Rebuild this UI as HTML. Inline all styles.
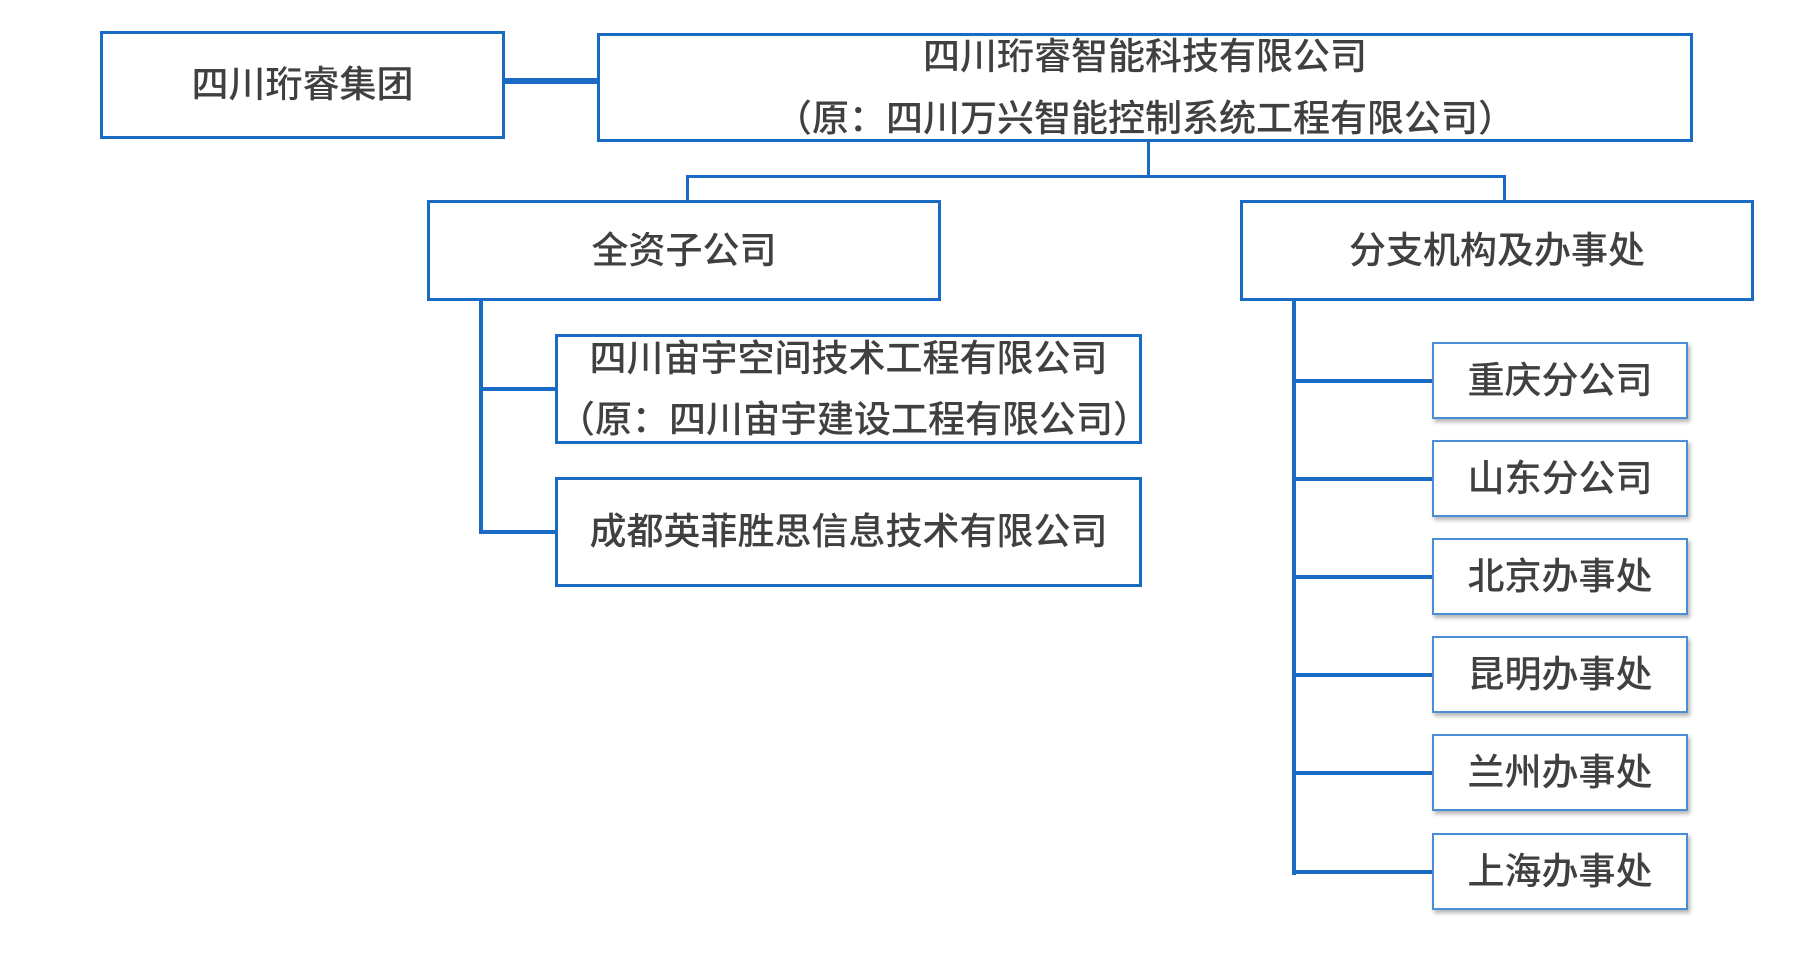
<!DOCTYPE html>
<html><head><meta charset="utf-8"><style>
body{margin:0;width:1800px;height:977px;background:#fff;position:relative;overflow:hidden;font-family:"Liberation Sans","Noto Sans CJK SC",sans-serif;color:#404040}
.b{position:absolute;box-sizing:border-box;border:3px solid #1a6bc4;background:#fff;display:flex;flex-direction:column;align-items:center;justify-content:center;font-size:37px;font-weight:500;line-height:1.65;text-align:center}
.s{border:2px solid #4a8fd6;box-shadow:2px 3px 4px rgba(0,0,0,0.3)}
.l{position:absolute;background:#1a6bc4}
</style></head><body>
<div class="l" style="left:505px;top:78px;width:94px;height:6px"></div>
<div class="l" style="left:1147px;top:140px;width:3px;height:38px"></div>
<div class="l" style="left:686px;top:175px;width:820px;height:3px"></div>
<div class="l" style="left:686px;top:175px;width:3px;height:28px"></div>
<div class="l" style="left:1503px;top:175px;width:3px;height:28px"></div>
<div class="l" style="left:479px;top:299px;width:4px;height:235px"></div>
<div class="l" style="left:479px;top:387px;width:78px;height:4px"></div>
<div class="l" style="left:479px;top:530px;width:78px;height:4px"></div>
<div class="l" style="left:1292px;top:299px;width:4px;height:576px"></div>
<div class="l" style="left:1292px;top:379px;width:142px;height:4px"></div>
<div class="l" style="left:1292px;top:477px;width:142px;height:4px"></div>
<div class="l" style="left:1292px;top:575px;width:142px;height:4px"></div>
<div class="l" style="left:1292px;top:673px;width:142px;height:4px"></div>
<div class="l" style="left:1292px;top:771px;width:142px;height:4px"></div>
<div class="l" style="left:1292px;top:870px;width:142px;height:4px"></div>

<div class="b" style="left:100px;top:31px;width:405px;height:108px">四川珩睿集团</div>
<div class="b" style="left:597px;top:33px;width:1096px;height:109px">四川珩睿智能科技有限公司<br>（原：四川万兴智能控制系统工程有限公司）</div>
<div class="b" style="left:427px;top:200px;width:514px;height:101px">全资子公司</div>
<div class="b" style="left:1240px;top:200px;width:514px;height:101px">分支机构及办事处</div>
<div class="b" style="left:555px;top:334px;width:587px;height:110px">四川宙宇空间技术工程有限公司<br>（原：四川宙宇建设工程有限公司）</div>
<div class="b" style="left:555px;top:477px;width:587px;height:110px">成都英菲胜思信息技术有限公司</div>
<div class="b s" style="left:1432px;top:342px;width:256px;height:77px">重庆分公司</div>
<div class="b s" style="left:1432px;top:440px;width:256px;height:77px">山东分公司</div>
<div class="b s" style="left:1432px;top:538px;width:256px;height:77px">北京办事处</div>
<div class="b s" style="left:1432px;top:636px;width:256px;height:77px">昆明办事处</div>
<div class="b s" style="left:1432px;top:734px;width:256px;height:77px">兰州办事处</div>
<div class="b s" style="left:1432px;top:833px;width:256px;height:77px">上海办事处</div>
</body></html>
